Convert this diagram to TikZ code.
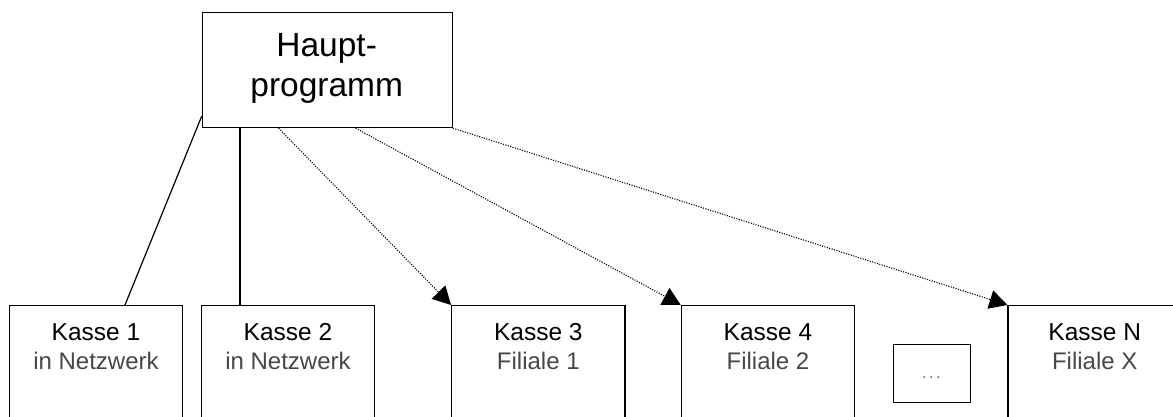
\documentclass[tikz,border=0pt]{standalone}
\usepackage{fontspec}
\setmainfont{Liberation Sans}
\usetikzlibrary{arrows.meta}
\tikzset{
  box/.style={draw, line width=1.2pt, minimum width=173.3pt, inner sep=0pt},
  kbox/.style={box, minimum height=140pt, anchor=north},
  title/.style={anchor=base, inner sep=0pt, font=\fontsize{24.5}{24.5}\selectfont},
  sub/.style={anchor=base, inner sep=0pt, text=black!72, font=\fontsize{24}{24}\selectfont},
  htext/.style={anchor=base, inner sep=0pt, font=\fontsize{33.5}{33.5}\selectfont},
  solidcon/.style={line width=1.2pt},
  dotcon/.style={line width=1.1pt, dash pattern=on 1.1pt off 1.4pt,
    -{Triangle[length=18pt,width=19pt]}, shorten >=0pt},
}
\begin{document}
\begin{tikzpicture}[x=1pt,y=-1pt]
\useasboundingbox (0,0) rectangle (1173,417);
\clip (0,0) rectangle (1173,417);
% main box
\node[draw, line width=1.2pt, minimum width=250pt, minimum height=114.7pt, inner sep=0pt, anchor=north west] (haupt) at (201.7,12.3) {};
\node[htext] (h1) at (326.7,57) {Haupt-};
\node[htext] (h2) at (326.7,97) {programm};
% cash boxes
\node[kbox] (k1) at (96,305) {};
\node[kbox] (k2) at (288,305) {};
\node[kbox] (k3) at (538.3,305) {};
\node[kbox] (k4) at (768,305) {};
\node[kbox] (kn) at (1094.7,305) {};
\node[draw, line width=1.2pt, minimum width=77.3pt, minimum height=57.7pt, inner sep=0pt, anchor=north west] (dots) at (892.7,344) {};
\node[anchor=base, inner sep=0pt, text=black!60, font=\fontsize{16}{16}\selectfont] (dt) at (931.3,378.5) {.\kern2.5pt.\kern2.5pt.};
% texts
\node[title] (t1) at (96,340) {Kasse 1};
\node[sub] (s1) at (96,369) {in Netzwerk};
\node[title] (t2) at (288,340) {Kasse 2};
\node[sub] (s2) at (288,369) {in Netzwerk};
\node[title] (t3) at (538.3,340) {Kasse 3};
\node[sub] (s3) at (538.3,369) {Filiale 1};
\node[title] (t4) at (768,340) {Kasse 4};
\node[sub] (s4) at (768,369) {Filiale 2};
\node[title] (tn) at (1094.7,340) {Kasse N};
\node[sub] (sn) at (1094.7,369) {Filiale X};
% connectors
\coordinate (a1) at ([yshift=12pt]haupt.south west);
\coordinate (b1) at ([xshift=29pt]k1.north);
\draw[solidcon] (a1) -- (b1);
\coordinate (b2) at ([xshift=-48pt]k2.north);
\draw[solidcon] (haupt.south -| b2) -- (b2);
\coordinate (a3) at ([xshift=-48.7pt]haupt.south);
\draw[dotcon] (a3) -- (k3.north west);
\coordinate (a4) at ([xshift=28.3pt]haupt.south);
\draw[dotcon] (a4) -- (k4.north west);
\draw[dotcon] (haupt.south east) -- (kn.north west);
\end{tikzpicture}
\end{document}
